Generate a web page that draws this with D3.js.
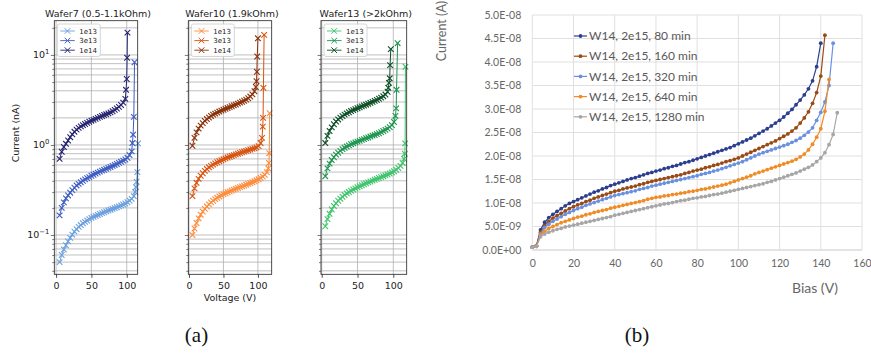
<!DOCTYPE html>
<html>
<head>
<meta charset="utf-8">
<script src="https://cdn.jsdelivr.net/npm/d3@7"></script>
<style>
  body { margin: 0; background: #fff; }
  svg { display: block; }
</style>
</head>
<body>
<svg id="chart" width="871" height="363"></svg>
<script>
// ---------- panel (a): IV curves, current in nA ----------
const gridV = [5, 8, 11, 14, 17, 20, 23, 26, 29, 32, 35, 38, 41, 44, 47, 50, 53, 56, 59, 62,
  65, 68, 71, 74, 77, 80, 83, 86, 89, 92, 95, 98, 101, 104, 107, 110, 113];
const fluences = ['1e13', '3e13', '1e14'];

const w7_1e13 = [0.050, 0.060, 0.069, 0.077, 0.085, 0.093, 0.101, 0.109, 0.116, 0.123, 0.129, 0.135,
  0.140, 0.145, 0.150, 0.155, 0.159, 0.163, 0.167, 0.171, 0.175, 0.179, 0.183, 0.187, 0.191, 0.195,
  0.199, 0.203, 0.208, 0.213, 0.218, 0.224, 0.231, 0.240, 0.252, 0.270];
const w7_1e13_tail = [[112, 0.30], [113, 0.34], [114, 0.39], [115, 0.50], [116, 1.04]];
const w7_3e13 = [0.165, 0.20, 0.23, 0.255, 0.275, 0.295, 0.315, 0.335, 0.355, 0.37, 0.385, 0.40,
  0.415, 0.428, 0.44, 0.455, 0.467, 0.48, 0.493, 0.505, 0.518, 0.53, 0.543, 0.556, 0.57, 0.585,
  0.60, 0.615, 0.632, 0.65, 0.67, 0.69, 0.72, 0.77, 0.85];
const w7_3e13_tail = [[108, 1.05], [109, 1.3], [110, 2.05], [111, 8.3]];
const w7_1e14 = [0.70, 0.84, 0.95, 1.03, 1.12, 1.22, 1.31, 1.40, 1.48, 1.55, 1.61, 1.66, 1.71, 1.76,
  1.81, 1.86, 1.90, 1.95, 2.00, 2.05, 2.10, 2.15, 2.19, 2.24, 2.30, 2.37, 2.45, 2.54, 2.65, 2.78, 2.95, 3.25];
const w7_1e14_tail = [[99, 4.1], [100, 5.4], [100.5, 9.3], [101, 17.7]];

const w10_1e13 = [0.10, 0.118, 0.136, 0.153, 0.168, 0.182, 0.195, 0.207, 0.219, 0.23, 0.24, 0.25,
  0.259, 0.268, 0.276, 0.284, 0.291, 0.298, 0.305, 0.312, 0.319, 0.326, 0.333, 0.34, 0.347, 0.354,
  0.362, 0.37, 0.378, 0.386, 0.395, 0.405, 0.416, 0.43, 0.445, 0.465, 0.50];
const w10_1e13_tail = [[115, 0.55], [116, 0.63], [116.5, 0.81], [117, 2.25]];
const w10_3e13 = [0.27, 0.33, 0.38, 0.42, 0.455, 0.485, 0.515, 0.54, 0.565, 0.585, 0.605, 0.625,
  0.643, 0.66, 0.677, 0.693, 0.71, 0.725, 0.74, 0.755, 0.77, 0.785, 0.80, 0.815, 0.83, 0.845, 0.86,
  0.875, 0.89, 0.905, 0.92, 0.94, 0.97, 1.05];
const w10_3e13_tail = [[106, 1.2], [107, 1.6], [107.5, 2.0], [108, 4.3], [109, 16.7]];
const w10_1e14 = [0.98, 1.20, 1.38, 1.52, 1.64, 1.75, 1.85, 1.94, 2.02, 2.10, 2.17, 2.23, 2.29, 2.35,
  2.41, 2.46, 2.52, 2.57, 2.63, 2.69, 2.75, 2.81, 2.88, 2.95, 3.02, 3.10, 3.19, 3.30, 3.45, 3.65, 3.95];
const w10_1e14_tail = [[97, 4.4], [98, 5.1], [98.5, 6.5], [99, 9.6], [100, 15.3]];

const w13_1e13 = [0.125, 0.15, 0.172, 0.192, 0.21, 0.225, 0.24, 0.253, 0.266, 0.278, 0.29, 0.30,
  0.31, 0.32, 0.33, 0.339, 0.348, 0.357, 0.366, 0.375, 0.384, 0.393, 0.402, 0.411, 0.42, 0.43, 0.44,
  0.45, 0.46, 0.47, 0.482, 0.495, 0.51, 0.53, 0.555, 0.585, 0.63];
const w13_1e13_tail = [[115, 0.70], [116, 0.80], [116.5, 1.04], [117, 7.4]];
const w13_3e13 = [0.45, 0.55, 0.62, 0.68, 0.73, 0.78, 0.82, 0.86, 0.90, 0.93, 0.96, 0.99, 1.02, 1.04,
  1.07, 1.09, 1.11, 1.14, 1.16, 1.19, 1.21, 1.24, 1.27, 1.29, 1.32, 1.35, 1.39, 1.43, 1.47, 1.52, 1.58,
  1.66, 1.80];
const w13_3e13_tail = [[103, 2.1], [104, 2.55], [104.5, 4.1], [106, 13.5]];
const w13_1e14 = [1.05, 1.26, 1.43, 1.57, 1.70, 1.82, 1.92, 2.01, 2.09, 2.17, 2.24, 2.31, 2.38, 2.44,
  2.50, 2.56, 2.62, 2.68, 2.74, 2.80, 2.87, 2.94, 3.01, 3.09, 3.17, 3.26, 3.36, 3.48, 3.63, 3.9];
const w13_1e14_tail = [[93, 4.3], [94, 4.9], [95, 5.5], [95.5, 7.7], [96.5, 11.6]];

const aXTicks = [0, 50, 100];
const aYMajor = [0.1, 1, 10];

// ---------- panel (b): bias scan, current in units of 1E-09 A ----------
const biasV = [0, 2, 4, 6, 8, 10, 12, 14, 16, 18, 20, 22, 24, 26, 28, 30, 32, 34, 36, 38, 40, 42, 44,
  46, 48, 50, 52, 54, 56, 58, 60, 62, 64, 66, 68, 70, 72, 74, 76, 78, 80, 82, 84, 86, 88, 90, 92, 94,
  96, 98, 100, 102, 104, 106, 108, 110, 112, 114, 116, 118, 120, 122, 124, 126, 128, 130, 132, 134,
  136, 138, 140, 142, 144, 146, 148];
const legendB = ['W14, 2e15, 80 min', 'W14, 2e15, 160 min', 'W14, 2e15, 320 min',
  'W14, 2e15, 640 min', 'W14, 2e15, 1280 min'];
const b80 = [0.6, 0.9, 4.3, 5.9, 6.9, 7.6, 8.2, 8.8, 9.4, 9.9,
  10.3, 10.7, 11.1, 11.5, 11.9, 12.3, 12.6, 13.0, 13.3, 13.7,
  14.0, 14.3, 14.6, 14.9, 15.2, 15.4, 15.7, 16.0, 16.3, 16.5,
  16.8, 17.0, 17.3, 17.5, 17.8, 18.0, 18.3, 18.6, 18.8, 19.1,
  19.4, 19.7, 20.0, 20.3, 20.6, 20.9, 21.2, 21.5, 21.8, 22.2,
  22.6, 23.0, 23.4, 23.8, 24.3, 24.8, 25.3, 25.8, 26.4, 27.0,
  27.6, 28.3, 29.1, 29.9, 30.9, 31.9, 33.0, 34.3, 36.0, 39.0,
  44.0];
const b160 = [0.6, 0.9, 3.8, 5.2, 6.1, 6.8, 7.3, 7.8, 8.3, 8.8,
  9.2, 9.6, 9.9, 10.3, 10.6, 11.0, 11.3, 11.6, 11.9, 12.2,
  12.5, 12.7, 13.0, 13.2, 13.4, 13.6, 13.9, 14.1, 14.4, 14.6,
  14.8, 15.0, 15.2, 15.4, 15.6, 15.8, 16.0, 16.3, 16.5, 16.8,
  17.0, 17.2, 17.5, 17.7, 18.0, 18.2, 18.5, 18.8, 19.0, 19.3,
  19.6, 20.0, 20.4, 20.8, 21.2, 21.6, 22.0, 22.4, 22.8, 23.2,
  23.7, 24.2, 24.7, 25.3, 26.0, 27.0, 28.1, 29.4, 31.2, 33.5,
  37.0, 45.7];
const b320 = [0.6, 0.8, 3.5, 4.8, 5.5, 6.1, 6.6, 7.1, 7.6, 8.0,
  8.4, 8.8, 9.1, 9.5, 9.8, 10.1, 10.4, 10.7, 11.0, 11.3,
  11.6, 11.8, 12.0, 12.2, 12.4, 12.6, 12.9, 13.1, 13.3, 13.6,
  13.8, 14.0, 14.2, 14.4, 14.6, 14.8, 15.0, 15.2, 15.4, 15.6,
  15.8, 16.1, 16.3, 16.5, 16.8, 17.0, 17.3, 17.6, 17.9, 18.2,
  18.5, 18.8, 19.2, 19.6, 20.0, 20.4, 20.7, 21.0, 21.3, 21.6,
  21.9, 22.2, 22.5, 22.9, 23.3, 23.8, 24.4, 25.1, 26.0, 27.6,
  29.3, 31.5, 35.0, 44.0];
const b640 = [0.6, 0.8, 3.2, 4.0, 4.6, 5.0, 5.4, 5.8, 6.1, 6.4,
  6.7, 7.0, 7.2, 7.5, 7.7, 8.0, 8.2, 8.4, 8.6, 8.9,
  9.1, 9.3, 9.5, 9.7, 9.9, 10.1, 10.3, 10.5, 10.8, 11.0,
  11.2, 11.3, 11.5, 11.6, 11.8, 11.9, 12.1, 12.2, 12.4, 12.5,
  12.7, 12.9, 13.0, 13.2, 13.4, 13.6, 13.8, 14.0, 14.3, 14.6,
  14.9, 15.2, 15.5, 15.8, 16.2, 16.5, 16.8, 17.1, 17.4, 17.7,
  18.0, 18.3, 18.6, 18.9, 19.3, 19.8, 20.4, 21.3, 22.5, 24.0,
  25.8, 29.5, 36.3];
const b1280 = [0.6, 0.8, 2.8, 3.4, 3.8, 4.1, 4.4, 4.6, 4.9, 5.1,
  5.3, 5.5, 5.7, 5.9, 6.1, 6.3, 6.5, 6.7, 6.9, 7.1,
  7.4, 7.6, 7.8, 8.0, 8.2, 8.4, 8.6, 8.8, 9.0, 9.2,
  9.4, 9.6, 9.8, 9.9, 10.1, 10.3, 10.5, 10.6, 10.8, 11.0,
  11.1, 11.3, 11.4, 11.6, 11.8, 11.9, 12.1, 12.3, 12.5, 12.7,
  12.9, 13.1, 13.3, 13.5, 13.7, 13.9, 14.1, 14.4, 14.6, 14.9,
  15.2, 15.5, 15.8, 16.1, 16.4, 16.8, 17.2, 17.6, 18.1, 18.8,
  19.6, 20.7, 22.4, 24.6, 29.2];
const bXTicks = [0, 20, 40, 60, 80, 100, 120, 140, 160];
const bYTicks = [0, 5, 10, 15, 20, 25, 30, 35, 40, 45, 50];

// ---------- helpers ----------
const svg = d3.select('#chart');
const sans = 'DejaVu Sans, sans-serif';
const xl = 'Lato, Open Sans, sans-serif';

function toPts(vals, tail) {
  const pts = vals.map((v, i) => [gridV[i], v]);
  return pts.concat(tail);
}

const wafers = [
  { title: 'Wafer7 (0.5-1.1kOhm)', left: 54.3, right: 137.7, dom: [-2.5, 115.5],
    colors: ['#6b9fdf', '#3d5cc4', '#25246f'],
    series: [toPts(w7_1e13, w7_1e13_tail), toPts(w7_3e13, w7_3e13_tail), toPts(w7_1e14, w7_1e14_tail)] },
  { title: 'Wafer10 (1.9kOhm)', left: 188.3, right: 271.7, dom: [-1, 120],
    colors: ['#fd8d3c', '#d8530f', '#8a3109'],
    series: [toPts(w10_1e13, w10_1e13_tail), toPts(w10_3e13, w10_3e13_tail), toPts(w10_1e14, w10_1e14_tail)] },
  { title: 'Wafer13 (>2kOhm)', left: 321, right: 406.7, dom: [-1, 118.7],
    colors: ['#3fc46c', '#1e9650', '#0d4f27'],
    series: [toPts(w13_1e13, w13_1e13_tail), toPts(w13_3e13, w13_3e13_tail), toPts(w13_1e14, w13_1e14_tail)] }
];

const aTop = 20.7, aBot = 274.3;
const aY = d3.scaleLog().domain([0.0366, 24]).range([aBot, aTop]);
const aTicks = aY.ticks();
const isMajor = d => Math.abs(Math.log10(d) - Math.round(Math.log10(d))) < 1e-9;
const xPath = 'M-2.8,-2.8L2.8,2.8M-2.8,2.8L2.8,-2.8';

wafers.forEach((w, wi) => {
  const x = d3.scaleLinear().domain(w.dom).range([w.left, w.right]);
  const g = svg.append('g');

  // grid
  g.selectAll('.hg').data(aTicks).enter().append('line')
    .attr('x1', w.left).attr('x2', w.right)
    .attr('y1', d => aY(d)).attr('y2', d => aY(d))
    .attr('stroke', '#b0b0b0').attr('stroke-width', 0.8);
  g.selectAll('.vg').data(aXTicks).enter().append('line')
    .attr('x1', d => x(d)).attr('x2', d => x(d))
    .attr('y1', aTop).attr('y2', aBot)
    .attr('stroke', '#b0b0b0').attr('stroke-width', 0.8);

  // series
  w.series.forEach((pts, si) => {
    const line = d3.line().x(d => x(d[0])).y(d => aY(d[1]));
    const sg = g.append('g');
    sg.append('path').attr('d', line(pts)).attr('fill', 'none')
      .attr('stroke', w.colors[si]).attr('stroke-width', 1);
    sg.selectAll('path.m').data(pts).enter().append('path').attr('class', 'm')
      .attr('d', xPath)
      .attr('transform', d => `translate(${x(d[0])},${aY(d[1])})`)
      .attr('stroke', w.colors[si]).attr('stroke-width', 1.1).attr('fill', 'none');
  });

  // frame
  g.append('rect').attr('x', w.left).attr('y', aTop)
    .attr('width', w.right - w.left).attr('height', aBot - aTop)
    .attr('fill', 'none').attr('stroke', '#222').attr('stroke-width', 0.8);

  // x axis
  const xa = g.append('g').attr('transform', `translate(0,${aBot})`)
    .call(d3.axisBottom(x).tickValues(aXTicks).tickSize(3.5).tickFormat(d3.format('d')));
  xa.select('.domain').remove();
  xa.selectAll('line').attr('stroke', '#222').attr('stroke-width', 0.8);
  xa.selectAll('text').attr('font-family', sans).attr('font-size', 9.5).attr('fill', '#222').attr('dy', '0.9em');

  // y axis ticks (major + minor)
  const ya = g.append('g').attr('transform', `translate(${w.left},0)`)
    .call(d3.axisLeft(aY).tickValues(aTicks).tickSize(2).tickFormat(''));
  ya.select('.domain').remove();
  ya.selectAll('line').attr('stroke', '#222').attr('stroke-width', 0.6)
    .attr('x2', d => isMajor(d) ? -3.5 : -2);

  if (wi === 0) {
    aYMajor.forEach(d => {
      const t = g.append('text').attr('x', w.left - 5).attr('y', aY(d) + 3.5)
        .attr('text-anchor', 'end').attr('font-family', sans).attr('font-size', 9.5).attr('fill', '#222');
      t.append('tspan').text('10');
      t.append('tspan').attr('dy', -4).attr('font-size', 6.8).text(String(Math.round(Math.log10(d))).replace('-', '\u2212'));
    });
  }

  // title
  g.append('text').attr('x', (w.left + w.right) / 2 + 2).attr('y', 16.5)
    .attr('text-anchor', 'middle').attr('font-family', sans).attr('font-size', 9.5)
    .attr('fill', '#222').text(w.title);

  // legend
  const lg = g.append('g');
  lg.append('rect').attr('x', w.left + 3).attr('y', 24).attr('width', 43).attr('height', 32.5)
    .attr('rx', 2).attr('fill', '#fff').attr('fill-opacity', 0.85).attr('stroke', '#cccccc').attr('stroke-width', 0.8);
  fluences.forEach((f, i) => {
    const yy = 31 + i * 9.6;
    lg.append('line').attr('x1', w.left + 6).attr('x2', w.left + 20.5)
      .attr('y1', yy).attr('y2', yy).attr('stroke', w.colors[i]).attr('stroke-width', 0.9);
    lg.append('path').attr('d', xPath).attr('transform', `translate(${w.left + 13.2},${yy})`)
      .attr('stroke', w.colors[i]).attr('stroke-width', 1).attr('fill', 'none');
    lg.append('text').attr('x', w.left + 25).attr('y', yy + 2.5)
      .attr('font-family', sans).attr('font-size', 7).attr('fill', '#222').text(f);
  });
});

svg.append('text').attr('transform', 'translate(19,133) rotate(-90)')
  .attr('text-anchor', 'middle').attr('font-family', sans).attr('font-size', 9.5)
  .attr('fill', '#222').text('Current (nA)');
svg.append('text').attr('x', 230).attr('y', 300.5)
  .attr('text-anchor', 'middle').attr('font-family', sans).attr('font-size', 9.5)
  .attr('fill', '#222').text('Voltage (V)');

// ---------- panel (b) ----------
const bX = d3.scaleLinear().domain([0, 160]).range([532.3, 862]);
const bY = d3.scaleLinear().domain([0, 50]).range([250, 15]);
const bSeries = [b80, b160, b320, b640, b1280];
const bColors = ['#2b3f8e', '#9a4a14', '#6a90e0', '#f08c25', '#a6a6a6'];
const gb = svg.append('g');

gb.selectAll('.bh').data(bYTicks).enter().append('line')
  .attr('x1', bX(0)).attr('x2', bX(160)).attr('y1', d => bY(d)).attr('y2', d => bY(d))
  .attr('stroke', d => d === 0 ? '#c8c8c8' : '#e0e0e0').attr('stroke-width', 1);
gb.selectAll('.bv').data(bXTicks).enter().append('line')
  .attr('x1', d => bX(d)).attr('x2', d => bX(d)).attr('y1', bY(50)).attr('y2', bY(0))
  .attr('stroke', '#e0e0e0').attr('stroke-width', 1);

function sciFmt(d) {
  if (d === 0) return '0.0E+00';
  const v = d * 1e-9;
  const e = Math.floor(Math.log10(v) + 1e-9);
  const m = v / Math.pow(10, e);
  const es = (e < 0 ? '-' : '+') + String(Math.abs(e)).padStart(2, '0');
  return m.toFixed(1) + 'E' + es;
}

const byA = gb.append('g').attr('transform', `translate(${bX(0)},0)`)
  .call(d3.axisLeft(bY).tickValues(bYTicks).tickSize(0).tickPadding(11).tickFormat(sciFmt));
byA.select('.domain').remove();
byA.selectAll('text').attr('font-family', xl).attr('font-size', 10.5).attr('fill', '#666');

const bxA = gb.append('g').attr('transform', `translate(0,${bY(0)})`)
  .call(d3.axisBottom(bX).tickValues(bXTicks).tickSize(0).tickPadding(10).tickFormat(d3.format('d')));
bxA.select('.domain').remove();
bxA.selectAll('text').attr('font-family', xl).attr('font-size', 10.5).attr('fill', '#666');

bSeries.forEach((vals, si) => {
  const pts = vals.map((v, i) => [biasV[i], v]);
  const line = d3.line().x(d => bX(d[0])).y(d => bY(d[1]));
  const sg = gb.append('g');
  sg.append('path').attr('d', line(pts)).attr('fill', 'none')
    .attr('stroke', bColors[si]).attr('stroke-width', 1.2);
  sg.selectAll('circle').data(pts).enter().append('circle')
    .attr('cx', d => bX(d[0])).attr('cy', d => bY(d[1])).attr('r', 1.9)
    .attr('fill', bColors[si]);
});

legendB.forEach((name, i) => {
  const yy = 36 + i * 20.2;
  gb.append('line').attr('x1', 574).attr('x2', 587).attr('y1', yy).attr('y2', yy)
    .attr('stroke', bColors[i]).attr('stroke-width', 1.2);
  gb.append('circle').attr('cx', 580.5).attr('cy', yy).attr('r', 1.9).attr('fill', bColors[i]);
  gb.append('text').attr('x', 589).attr('y', yy + 4.2).attr('font-family', xl)
    .attr('font-size', 12).attr('fill', '#595959').text(name);
});

svg.append('text').attr('transform', 'translate(446,31) rotate(-90)')
  .attr('text-anchor', 'middle').attr('font-family', xl).attr('font-size', 12.5)
  .attr('fill', '#666').text('Current (A)');
svg.append('text').attr('x', 815).attr('y', 293)
  .attr('text-anchor', 'middle').attr('font-family', xl).attr('font-size', 14)
  .attr('fill', '#666').text('Bias (V)');

// ---------- captions ----------
svg.append('text').attr('x', 196.5).attr('y', 342).attr('text-anchor', 'middle')
  .attr('font-family', 'Liberation Serif, DejaVu Serif, serif').attr('font-size', 21)
  .attr('fill', '#111').text('(a)');
svg.append('text').attr('x', 637).attr('y', 342).attr('text-anchor', 'middle')
  .attr('font-family', 'Liberation Serif, DejaVu Serif, serif').attr('font-size', 21)
  .attr('fill', '#111').text('(b)');
</script>
</body>
</html>
